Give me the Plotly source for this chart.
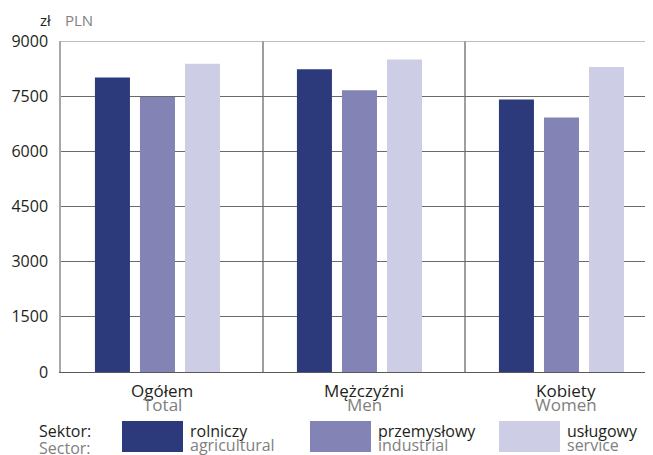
import plotly.graph_objects as go

groups_pl = ["Ogółem", "Mężczyźni", "Kobiety"]
groups_en = ["Total", "Men", "Women"]

sectors_pl = ["rolniczy", "przemysłowy", "usługowy"]
sectors_en = ["agricultural", "industrial", "service"]
colors = ["#2c397b", "#8383b5", "#cdcde5"]

agricultural = [8010, 8230, 7410]
industrial = [7480, 7660, 6920]
service = [8380, 8500, 8290]

y_ticks = [0, 1500, 3000, 4500, 6000, 7500, 9000]

# page is 653x455, the html body adds an 8px margin
W, H, OFF = 653, 455, 8
L, R, T, B = 61, 653, 41, 372
FONT = "Open Sans"
DARK = "#231f20"
GRAY = "#808080"


def px(x):
    return (x - L) / (R - L)


def py(y):
    return (B - y) / (B - T)


def label(x, y, text, color, size, xref="paper", xanchor="left"):
    return dict(x=x, y=py(y), xref=xref, yref="paper", text=text,
                showarrow=False, xanchor=xanchor, yanchor="middle",
                font=dict(size=size, color=color, family=FONT))


x_pos = list(range(len(groups_pl)))
series = [agricultural, industrial, service]
bar_w = 35 / 202
offsets = [-0.332, -0.109, 0.114]

fig = go.Figure()
for vals, col, off in zip(series, colors, offsets):
    fig.add_trace(go.Bar(
        x=x_pos, y=vals,
        width=bar_w, offset=off,
        marker=dict(color=col, line=dict(width=0)),
        showlegend=False,
    ))

shapes = []
for sep in [0.5, 1.5]:
    shapes.append(dict(type="line", xref="x", yref="y", x0=sep, x1=sep,
                       y0=0, y1=9000, line=dict(color="#6a6a6a", width=1.3),
                       layer="below"))
shapes.append(dict(type="line", xref="paper", yref="y", x0=0, x1=1,
                   y0=9000, y1=9000, line=dict(color="#a8a8a8", width=1.5)))

annotations = [
    label(px(53), 20, "zł", DARK, 15, xanchor="right"),
    label(px(63), 20, "PLN", GRAY, 15),
    label(px(37), 431, "Sektor:", DARK, 16),
    label(px(37), 448, "Sector:", GRAY, 16),
]

for i, (pl, en) in enumerate(zip(groups_pl, groups_en)):
    annotations.append(label(i, 390, pl, DARK, 17, xref="x", xanchor="center"))
    annotations.append(label(i, 404, en, GRAY, 17, xref="x", xanchor="center"))

swatch_x = [122, 310, 499]
for sx, col, pl, en in zip(swatch_x, colors, sectors_pl, sectors_en):
    shapes.append(dict(type="rect", xref="paper", yref="paper",
                       x0=px(sx), x1=px(sx + 61), y0=py(421), y1=py(452),
                       fillcolor=col, line=dict(width=0)))
    annotations.append(label(px(sx + 66), 431, pl, DARK, 16))
    annotations.append(label(px(sx + 66), 445, en, GRAY, 16))

fig.update_layout(
    width=W - OFF, height=H - OFF,
    margin=dict(l=L - OFF, r=W - R, t=T - OFF, b=H - B, pad=0),
    plot_bgcolor="white", paper_bgcolor="white",
    font=dict(family=FONT, color=DARK, size=15),
    barmode="overlay",
    shapes=shapes,
    annotations=annotations,
    xaxis=dict(
        range=[-0.5, -0.5 + (R - L) / 202],
        tickvals=[], showticklabels=False,
        showgrid=False, zeroline=False, ticks="",
        showline=True, linecolor="#5a5a5a", linewidth=1.3,
        fixedrange=True,
    ),
    yaxis=dict(
        range=[0, 9000],
        tickmode="array", tickvals=y_ticks,
        showgrid=True, gridcolor="#6a6a6a", gridwidth=1.2,
        zeroline=False,
        showline=True, linecolor="#a8a8a8", linewidth=1.5,
        ticks="", ticklabelstandoff=8,
        tickfont=dict(size=16, family=FONT, color=DARK),
        fixedrange=True,
    ),
)

fig.write_html("out.html")
